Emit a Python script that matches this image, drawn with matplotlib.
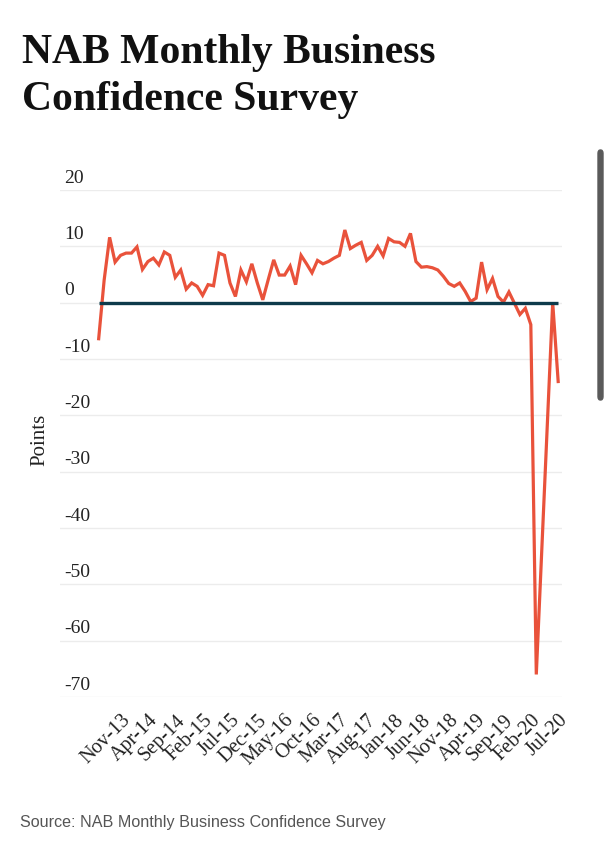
import matplotlib
matplotlib.use("Agg")
import matplotlib.pyplot as plt
from matplotlib.patches import FancyBboxPatch
from datetime import datetime

# monthly readings, Jul-13 .. Mar-20, then Jun-20 and Jul-20
months = [f"{m}-{y}" for y in range(13, 21) for m in
          ["Jan", "Feb", "Mar", "Apr", "May", "Jun", "Jul", "Aug", "Sep", "Oct", "Nov", "Dec"]]
months = months[6:6 + 81] + ["Jun-20", "Jul-20"]
confidence = [-6.4, 4, 11.6, 7.2, 8.4, 8.8, 8.8, 9.9, 5.9, 7.3,
              7.9, 6.7, 9.0, 8.4, 4.5, 5.8, 2.4, 3.5, 2.9, 1.3,
              3.2, 3.0, 8.8, 8.4, 3.5, 1.1, 5.8, 3.7, 6.9, 3.5,
              0.5, 4.1, 7.6, 4.9, 4.9, 6.5, 3.2, 8.4, 6.9, 5.3,
              7.5, 6.9, 7.3, 7.9, 8.4, 12.9, 9.6, 10.2, 10.7, 7.5,
              8.4, 10.0, 8.3, 11.4, 10.8, 10.7, 10.0, 12.3, 7.3, 6.3,
              6.4, 6.2, 5.8, 4.7, 3.4, 2.9, 3.5, 2.0, 0.2, 0.8,
              7.2, 2.3, 4.3, 1.1, 0.1, 1.9, -0.1, -2.1, -1.0, -3.9,
              -66, 0, -14]
tick_labels = ["Nov-13", "Apr-14", "Sep-14", "Feb-15", "Jul-15", "Dec-15",
               "May-16", "Oct-16", "Mar-17", "Aug-17", "Jan-18", "Jun-18",
               "Nov-18", "Apr-19", "Sep-19", "Feb-20", "Jul-20"]
y_ticks = [20, 10, 0, -10, -20, -30, -40, -50, -60, -70]


def month_pos(label):
    d = datetime.strptime(label, "%b-%y")
    return (d.year - 2013) * 12 + d.month - 7


x = [month_pos(m) for m in months]

fig = plt.figure(figsize=(6.04, 8.51), dpi=100)
ax = fig.add_axes([60 / 604, 1 - 697 / 851, 502 / 604, 507 / 851])

serif = "Liberation Serif"
ax.plot(x, confidence, color="#e9523b", lw=2.3, solid_joinstyle="miter", zorder=3)
ax.hlines(0, x[0], x[-1], color="#0d3a4b", lw=2.4, zorder=4)

ax.set_ylim(-70, 20)
ax.set_xlim(-7.07, 84.7)
for v in y_ticks:
    ax.axhline(v, color="#ececec", lw=1, zorder=1)
    ax.text(0.008, v + 0.6, str(v), transform=ax.get_yaxis_transform(),
            ha="left", va="bottom", fontsize=14, family=serif, color="#222222")
ax.set_yticks([])
ax.set_xticks([month_pos(t) for t in tick_labels])
ax.set_xticklabels(tick_labels, rotation=45, ha="right", va="top",
                   rotation_mode="anchor", fontsize=14.5, family=serif, color="#222222")
ax.tick_params(axis="x", length=0, pad=10)
for s in ax.spines.values():
    s.set_visible(False)

fig.text(40 / 604, 1 - 440 / 851, "Points", rotation=90, ha="center", va="center",
         fontsize=15, family=serif, color="#222222")

fig.text(22 / 604, 1 - 63 / 851, "NAB Monthly Business", ha="left", va="baseline",
         fontsize=30, family=serif, weight="bold", color="#111111")
fig.text(22 / 604, 1 - 110 / 851, "Confidence Survey", ha="left", va="baseline",
         fontsize=30, family=serif, weight="bold", color="#111111")

fig.text(20 / 604, 1 - 822 / 851, "Source: NAB Monthly Business Confidence Survey",
         ha="left", va="center", fontsize=11.6, family="Liberation Sans", color="#555555")

# scrollbar strip of the original screenshot
fig.patches.append(FancyBboxPatch((598 / 604, 1 - 400 / 851), 5 / 604, 250 / 851,
                                  boxstyle="round,pad=0,rounding_size=0.004",
                                  transform=fig.transFigure, color="#5a5a5a"))

fig.savefig("out.png", dpi=100)
